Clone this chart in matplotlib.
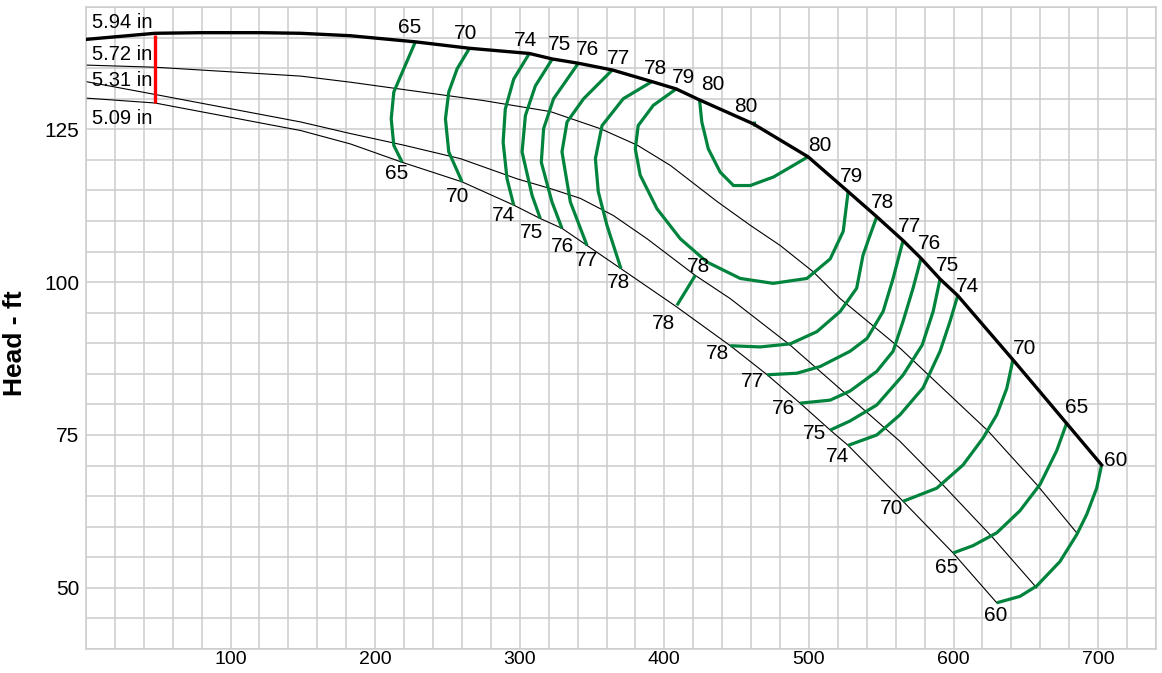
import matplotlib
matplotlib.use("Agg")
import matplotlib.pyplot as plt

plt.rcParams['font.family'] = ['Liberation Sans', 'DejaVu Sans']

# head curves per impeller diameter (flow, head ft)
d594_q = [0, 47.7, 79.3, 120.7, 148.4, 182.9, 227.8, 265.2, 306.6, 322.5, 340.5, 364.0, 391.4,
          408.2, 423.4, 461.4, 499.4, 527.1, 546.9, 565.1, 577.5, 590.7, 602.9, 641.1, 678.2, 702.4]
d594_h = [139.7, 140.7, 140.8, 140.8, 140.7, 140.3, 139.3, 138.25, 137.4, 136.5, 135.8, 134.7, 132.8,
          131.6, 129.9, 125.9, 120.5, 114.8, 110.7, 106.8, 103.9, 100.5, 97.8, 87.3, 76.9, 70.1]

d572_q = [0, 47.7, 148.4, 182.9, 274.8, 321.1, 355.7, 381.3, 404.1, 436.4, 459.4, 480.1, 502.9,
          521.6, 563.0, 624.1, 657.5, 685.2]
d572_h = [135.5, 135.15, 133.7, 132.7, 129.7, 127.9, 125.1, 122.4, 119.1, 113.2, 109.3, 106.0, 101.7,
          97.3, 89.2, 75.6, 66.9, 59.0]

d531_q = [0, 47.7, 148.4, 182.9, 219.8, 258.9, 298.1, 321.2, 341.9, 364.7, 388.0, 421.4, 445.6,
          487.0, 563.0, 592.8, 626.4, 657.5]
d531_h = [132.8, 130.7, 126.2, 124.3, 122.4, 120.2, 116.9, 115.3, 113.7, 110.9, 107.1, 101.1, 97.3,
          89.7, 73.95, 66.8, 58.4, 50.0]

d509_q = [0, 47.7, 148.4, 182.9, 218.7, 260.1, 295.8, 314.2, 329.2, 346.5, 370.0, 408.2, 445.6,
          471.1, 493.9, 514.7, 527.1, 565.1, 599.7, 629.9]
d509_h = [130.1, 129.3, 124.8, 122.6, 119.6, 116.4, 112.6, 110.4, 108.8, 106.0, 102.2, 96.0, 89.6,
          84.85, 80.2, 75.8, 73.3, 64.15, 55.7, 47.55]

diam_labels = ["5.94 in", "5.72 in", "5.31 in", "5.09 in"]
diam_label_h = [142.4, 137.2, 132.9, 126.7]

# iso-efficiency curves (flow, head)
eff65a_q = [227.8, 219.8, 212.9, 211.1, 212.9, 218.7]
eff65a_h = [139.3, 134.9, 131.1, 126.7, 122.35, 119.6]
eff70a_q = [265.2, 256.7, 250.9, 248.6, 250.9, 260.1]
eff70a_h = [138.25, 134.9, 131.1, 126.7, 121.3, 116.4]
eff74a_q = [306.6, 295.8, 290.0, 288.5, 291.2, 295.8]
eff74a_h = [137.4, 133.2, 128.3, 122.9, 116.9, 112.6]
eff75a_q = [322.5, 310.8, 303.9, 301.6, 308.5, 314.2]
eff75a_h = [136.5, 132.1, 127.25, 121.3, 114.2, 110.4]
eff76a_q = [340.5, 323.4, 316.5, 314.9, 322.3, 329.2]
eff76a_h = [135.8, 130.0, 125.1, 119.6, 113.1, 108.8]
eff77a_q = [364.0, 344.2, 332.7, 329.2, 335.0, 346.5]
eff77a_h = [134.7, 130.0, 126.2, 121.3, 113.1, 106.0]
eff78a_q = [391.4, 371.6, 356.9, 352.3, 354.3, 360.3, 370.0]
eff78a_h = [132.8, 130.0, 125.6, 120.2, 114.8, 109.3, 102.2]
eff79_q = [408.2, 392.3, 381.9, 379.9, 383.3, 394.9, 411.0, 429.4, 452.5, 475.3, 498.6, 514.7, 523.7, 527.1]
eff79_h = [131.6, 128.9, 125.6, 121.8, 117.5, 112.0, 107.1, 103.3, 100.6, 99.8, 100.6, 103.8, 108.3, 114.8]
eff80_q = [424.3, 425.9, 430.4, 438.6, 447.8, 459.4, 475.5, 489.3, 499.3]
eff80_h = [129.9, 126.2, 121.8, 118.0, 115.8, 115.8, 117.2, 119.1, 120.5]
eff80b_q = [462.1, 462.1]
eff80b_h = [126.3, 125.6]
eff78b_q = [408.7, 421.4]
eff78b_h = [96.2, 101.1]
eff78c_q = [546.9, 542.3, 537.4, 533.0, 521.6, 505.5, 487.0, 466.2, 445.6]
eff78c_h = [110.7, 107.7, 104.4, 99.0, 95.2, 91.9, 89.9, 89.4, 89.6]
eff77b_q = [565.1, 558.2, 551.3, 540.2, 528.5, 507.8, 491.6, 471.1]
eff77b_h = [106.8, 100.6, 95.2, 90.8, 88.7, 86.2, 85.1, 84.85]
eff76b_q = [577.5, 572.0, 565.1, 558.2, 546.9, 528.5, 514.7, 493.9]
eff76b_h = [103.9, 99.0, 93.6, 88.7, 85.4, 82.2, 80.7, 80.2]
eff75b_q = [590.7, 585.9, 578.3, 565.1, 546.9, 528.5, 514.7]
eff75b_h = [100.5, 95.2, 89.7, 84.8, 79.9, 77.3, 75.8]
eff74b_q = [602.9, 597.6, 590.7, 578.9, 563.0, 546.9, 527.1]
eff74b_h = [97.8, 93.6, 88.7, 82.7, 78.3, 75.0, 73.3]
eff70b_q = [641.1, 636.8, 629.9, 620.4, 606.6, 588.4, 565.1]
eff70b_h = [87.3, 82.6, 78.3, 74.5, 70.1, 66.3, 64.15]
eff65b_q = [678.2, 671.3, 659.8, 645.9, 629.9, 613.5, 599.7]
eff65b_h = [76.9, 72.4, 66.9, 62.6, 59.0, 56.9, 55.7]
eff60_q = [702.4, 699.0, 692.1, 685.2, 673.6, 657.5, 645.9, 629.9]
eff60_h = [70.1, 66.3, 62.0, 58.7, 54.3, 50.3, 48.6, 47.55]

eff_curves = [
    (eff65a_q, eff65a_h), (eff70a_q, eff70a_h), (eff74a_q, eff74a_h), (eff75a_q, eff75a_h),
    (eff76a_q, eff76a_h), (eff77a_q, eff77a_h), (eff78a_q, eff78a_h), (eff79_q, eff79_h),
    (eff80_q, eff80_h), (eff80b_q, eff80b_h), (eff78b_q, eff78b_h), (eff78c_q, eff78c_h),
    (eff77b_q, eff77b_h), (eff76b_q, eff76b_h), (eff75b_q, eff75b_h), (eff74b_q, eff74b_h),
    (eff70b_q, eff70b_h), (eff65b_q, eff65b_h), (eff60_q, eff60_h),
]

# efficiency labels: text, flow, head
eff_labels = [
    ("65", 223.7, 141.7), ("70", 262.4, 140.6), ("74", 303.9, 139.6), ("75", 327.4, 138.8),
    ("76", 346.7, 138.1), ("77", 368.2, 136.5), ("78", 393.8, 135.0), ("79", 413.1, 133.5),
    ("80", 433.8, 132.4), ("80", 456.6, 128.7), ("80", 507.8, 122.3), ("79", 529.2, 117.2),
    ("78", 550.6, 113.0), ("77", 569.3, 109.1), ("76", 583.1, 106.3), ("75", 595.5, 102.7),
    ("74", 610.0, 99.3), ("70", 649.4, 89.2), ("65", 685.4, 79.5), ("60", 712.3, 70.9),
    ("65", 214.7, 117.7), ("70", 256.9, 114.0), ("74", 288.7, 110.9), ("75", 308.1, 108.1),
    ("76", 329.5, 105.8), ("77", 346.1, 103.5), ("78", 368.2, 99.95), ("78", 423.5, 102.6),
    ("78", 399.3, 93.3), ("78", 436.6, 88.4), ("77", 460.8, 83.8), ("76", 482.2, 79.4),
    ("75", 503.6, 75.2), ("74", 519.5, 71.55), ("70", 556.9, 62.9), ("65", 594.9, 53.4),
    ("60", 629.4, 45.4),
]

# operating limit marker
limit_q = 47.7
limit_h = [129.3, 140.4]

green = '#00843d'
grey = '#cccccc'

fig = plt.figure(figsize=(11.62, 6.73), dpi=100)
ax = fig.add_axes([0.074, 0.0357, 0.9208, 0.9539])

for q, h in [(d572_q, d572_h), (d531_q, d531_h), (d509_q, d509_h)]:
    ax.plot(q, h, color='black', lw=0.8, zorder=2, solid_joinstyle='round')
for q, h in eff_curves:
    ax.plot(q, h, color=green, lw=2.3, zorder=3, solid_capstyle='butt', solid_joinstyle='round')
ax.plot(d594_q, d594_h, color='black', lw=2.4, zorder=4, solid_joinstyle='round')
ax.plot([limit_q, limit_q], limit_h, color='#ff0000', lw=2.4, zorder=5, solid_capstyle='butt')

for txt, hy in zip(diam_labels, diam_label_h):
    ax.text(3.9, hy, txt, fontsize=14.5, ha='left', va='center', zorder=6)
for txt, q, h in eff_labels:
    ax.text(q, h, txt, fontsize=15, ha='center', va='center', zorder=6)

ax.set_xlim(0, 740)
ax.set_ylim(40, 145)
ax.set_xticks(range(100, 701, 100))
ax.set_xticks(range(0, 741, 20), minor=True)
ax.set_yticks([50, 75, 100, 125])
ax.set_yticks(range(40, 146, 5), minor=True)
ax.grid(True, which='both', color=grey, lw=1.1, zorder=0)
ax.set_axisbelow(True)
ax.tick_params(which='both', length=0)
ax.tick_params(axis='y', labelsize=15, pad=5)
ax.tick_params(axis='x', labelsize=14, pad=1.5)
for s in ax.spines.values():
    s.set_color(grey)
    s.set_linewidth(1.1)

ax.set_ylabel("Head - ft", fontsize=19, fontweight='bold')
ax.yaxis.set_label_coords(-0.055, 0.477)

fig.savefig("out.png", dpi=100)
